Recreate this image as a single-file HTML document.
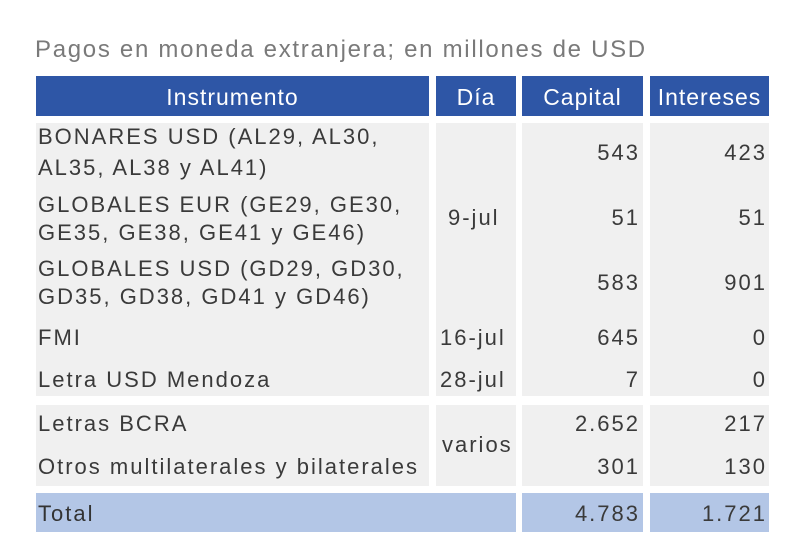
<!DOCTYPE html><html><head><style>
body{margin:0;width:798px;height:560px;background:#fff;position:relative;overflow:hidden;font-family:"Liberation Sans",sans-serif;}
div{position:absolute;}
.h{background:#2e56a6;top:76px;height:40px;color:#fff;font-size:23px;line-height:42px;text-align:center;letter-spacing:1px;}
.g{background:#f0f0f0;}
.t{background:#b3c6e6;}
.x{font-size:22px;color:#3a3a3a;white-space:nowrap;line-height:22px;letter-spacing:2px}
.r{text-align:right;}
</style></head><body>
<div style="left:35px;top:36px;font-size:24px;color:#7a7a7a;letter-spacing:1.7px">Pagos en moneda extranjera; en millones de USD</div>
<div class="h" style="left:36px;width:393px">Instrumento</div>
<div class="h" style="left:436px;width:80px">Día</div>
<div class="h" style="left:522px;width:121px">Capital</div>
<div class="h" style="left:650px;width:119px">Intereses</div>
<div class="g" style="left:36px;top:123px;width:393px;height:273px"></div>
<div class="g" style="left:436px;top:123px;width:80px;height:273px"></div>
<div class="g" style="left:522px;top:123px;width:121px;height:273px"></div>
<div class="g" style="left:650px;top:123px;width:119px;height:273px"></div>
<div class="g" style="left:36px;top:405px;width:393px;height:81px"></div>
<div class="g" style="left:436px;top:405px;width:80px;height:81px"></div>
<div class="g" style="left:522px;top:405px;width:121px;height:81px"></div>
<div class="g" style="left:650px;top:405px;width:119px;height:81px"></div>
<div class="t" style="left:36px;top:493px;width:480px;height:39px"></div>
<div class="t" style="left:522px;top:493px;width:121px;height:39px"></div>
<div class="t" style="left:650px;top:493px;width:119px;height:39px"></div>
<div class="x" style="left:38px;top:126px">BONARES USD (AL29, AL30,</div>
<div class="x" style="left:38px;top:157px">AL35, AL38 y AL41)</div>
<div class="x" style="left:38px;top:194px">GLOBALES EUR (GE29, GE30,</div>
<div class="x" style="left:38px;top:222px">GE35, GE38, GE41 y GE46)</div>
<div class="x" style="left:38px;top:258px">GLOBALES USD (GD29, GD30,</div>
<div class="x" style="left:38px;top:286px">GD35, GD38, GD41 y GD46)</div>
<div class="x" style="left:38px;top:327px">FMI</div>
<div class="x" style="left:38px;top:369px">Letra USD Mendoza</div>
<div class="x" style="left:38px;top:413px">Letras BCRA</div>
<div class="x" style="left:38px;top:456px">Otros multilaterales y bilaterales</div>
<div class="x" style="left:38px;top:503px;color:#333">Total</div>
<div class="x" style="left:448px;top:207px">9-jul</div>
<div class="x" style="left:440px;top:327px">16-jul</div>
<div class="x" style="left:440px;top:369px">28-jul</div>
<div class="x" style="left:442px;top:434px">varios</div>
<div class="x r" style="left:522px;width:118px;top:142px">543</div>
<div class="x r" style="left:522px;width:118px;top:207px">51</div>
<div class="x r" style="left:522px;width:118px;top:272px">583</div>
<div class="x r" style="left:522px;width:118px;top:327px">645</div>
<div class="x r" style="left:522px;width:118px;top:369px">7</div>
<div class="x r" style="left:522px;width:118px;top:413px">2.652</div>
<div class="x r" style="left:522px;width:118px;top:456px">301</div>
<div class="x r" style="left:522px;width:118px;top:503px">4.783</div>
<div class="x r" style="left:650px;width:117px;top:142px">423</div>
<div class="x r" style="left:650px;width:117px;top:207px">51</div>
<div class="x r" style="left:650px;width:117px;top:272px">901</div>
<div class="x r" style="left:650px;width:117px;top:327px">0</div>
<div class="x r" style="left:650px;width:117px;top:369px">0</div>
<div class="x r" style="left:650px;width:117px;top:413px">217</div>
<div class="x r" style="left:650px;width:117px;top:456px">130</div>
<div class="x r" style="left:650px;width:117px;top:503px">1.721</div>
</body></html>
